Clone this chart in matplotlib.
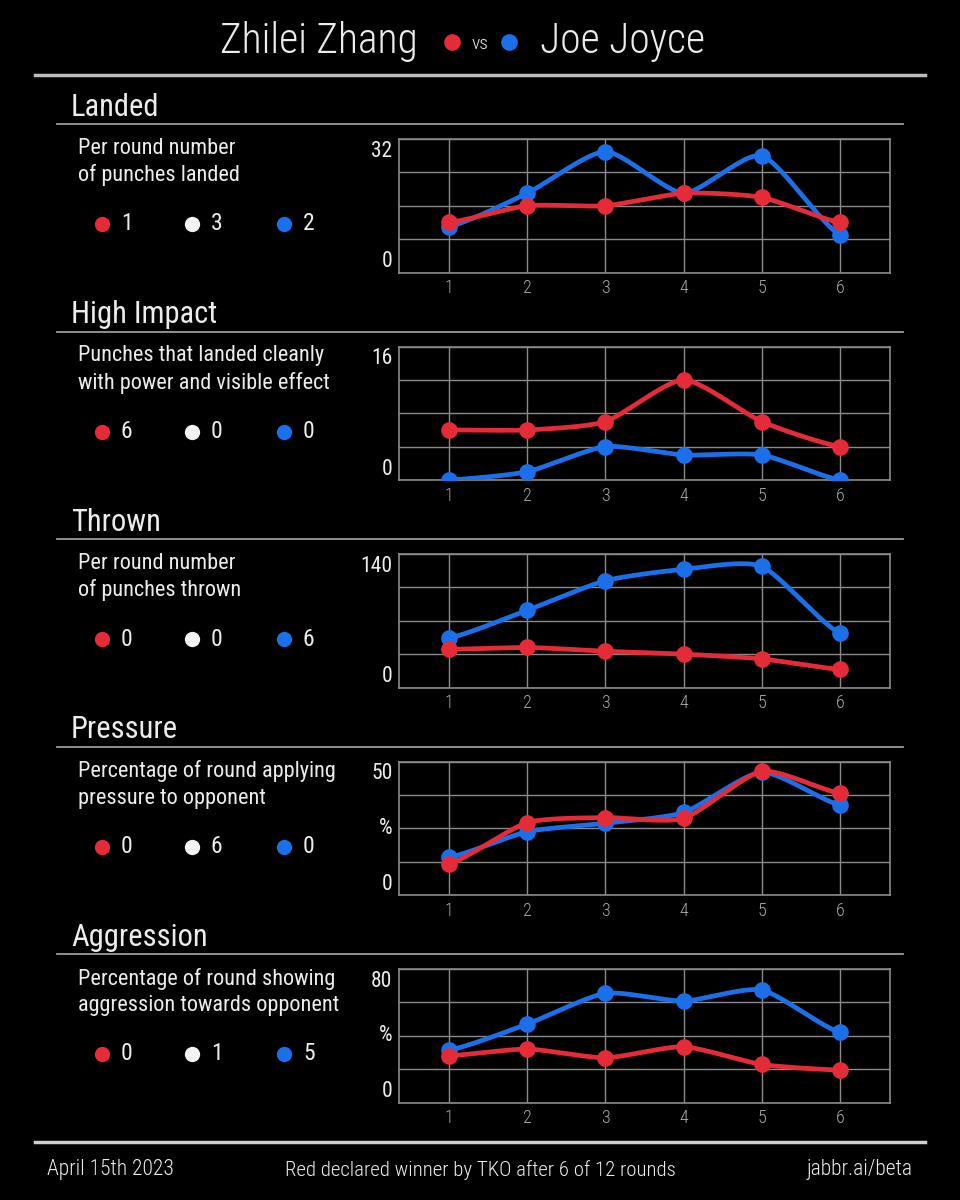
import numpy as np
import matplotlib
matplotlib.use("Agg")
import matplotlib.pyplot as plt
from matplotlib import font_manager
from matplotlib.lines import Line2D

# --- data ---
rounds = [1, 2, 3, 4, 5, 6]

landed_red = [12, 16, 16, 19, 18, 12]
landed_blue = [11, 19, 29, 19, 28, 9]
impact_red = [6, 6, 7, 12, 7, 4]
impact_blue = [0, 1, 4, 3, 3, 0]
thrown_red = [40, 42, 38, 35, 30, 19]
thrown_blue = [52, 81, 112, 124, 127, 57]
pressure_red = [11.6, 27.1, 29.0, 28.7, 46.3, 38.1]
pressure_blue = [14.1, 23.7, 26.9, 30.9, 46.0, 33.7]
aggression_red = [28.0, 32.0, 26.8, 33.4, 22.8, 19.4]
aggression_blue = [31.4, 47.0, 65.4, 60.8, 67.4, 42.0]

titles = ["Landed", "High Impact", "Thrown", "Pressure", "Aggression"]
subtitles = [
    "Per round number\nof punches landed",
    "Punches that landed cleanly\nwith power and visible effect",
    "Per round number\nof punches thrown",
    "Percentage of round applying\npressure to opponent",
    "Percentage of round showing\naggression towards opponent",
]
legend_counts = [[1, 3, 2], [6, 0, 0], [0, 0, 6], [0, 6, 0], [0, 1, 5]]
y_max = [32, 16, 140, 50, 80]
y_mid_label = ["", "", "", "%", "%"]
red_series = [landed_red, impact_red, thrown_red, pressure_red, aggression_red]
blue_series = [landed_blue, impact_blue, thrown_blue, pressure_blue, aggression_blue]

RED = "#e62b38"
BLUE = "#1b6fe8"
GRID = "#8a8a8a"
TXT = "#ececec"

# pick a narrow face if one is installed
names = {f.name for f in font_manager.fontManager.ttflist}
narrow = "Roboto"
for cand in ["Roboto Condensed", "Liberation Sans Narrow", "Open Sans Condensed", "DejaVu Sans Condensed"]:
    if cand in names:
        narrow = cand
        break

W, H = 960, 1200


def fx(px):
    return px / W


def fy(py):
    return 1 - py / H


def smooth(x, y, n=30, c=0.65):
    # cardinal spline through the points, just for the rounded look
    x = np.asarray(x, float)
    y = np.asarray(y, float)
    px = np.concatenate([[2 * x[0] - x[1]], x, [2 * x[-1] - x[-2]]])
    py = np.concatenate([[y[0]], y, [y[-1]]])
    xs, ys = [], []
    t = np.linspace(0, 1, n)
    h00 = 2 * t ** 3 - 3 * t ** 2 + 1
    h10 = t ** 3 - 2 * t ** 2 + t
    h01 = -2 * t ** 3 + 3 * t ** 2
    h11 = t ** 3 - t ** 2
    for i in range(1, len(px) - 2):
        for arr, out in ((px, xs), (py, ys)):
            p0, p1, p2, p3 = arr[i - 1], arr[i], arr[i + 1], arr[i + 2]
            m1 = c * (p2 - p0) / 2
            m2 = c * (p3 - p1) / 2
            out.append(h00 * p1 + h10 * m1 + h01 * p2 + h11 * m2)
    return np.concatenate(xs), np.concatenate(ys)


fig = plt.figure(figsize=(9.6, 12), dpi=100, facecolor="black")

# header
fig.text(fx(418), fy(42), "Zhilei Zhang", ha="right", va="center", color=TXT,
         fontsize=30, family=narrow, fontweight="light")
fig.text(fx(480), fy(44), "vs", ha="center", va="center", color=TXT, fontsize=14, family=narrow,
         fontweight="light")
fig.text(fx(540), fy(42), "Joe Joyce", ha="left", va="center", color=TXT,
         fontsize=30, family=narrow, fontweight="light")
fig.add_artist(Line2D([fx(452)], [fy(42)], marker="o", ms=12, color=RED, mec="none", transform=fig.transFigure))
fig.add_artist(Line2D([fx(509)], [fy(42)], marker="o", ms=12, color=BLUE, mec="none", transform=fig.transFigure))
fig.add_artist(Line2D([fx(35), fx(925)], [fy(75), fy(75)], color="#bdbdbd", lw=2.5, transform=fig.transFigure))

step = 207.5
for i in range(5):
    top = 107 + i * step

    fig.text(fx(71), fy(top), titles[i], ha="left", va="center", color=TXT, fontsize=22, family=narrow)
    fig.add_artist(Line2D([fx(57), fx(903)], [fy(top + 17), fy(top + 17)], color="#9a9a9a", lw=1.3,
                          transform=fig.transFigure))
    fig.text(fx(78), fy(top + 55), subtitles[i], ha="left", va="center", color=TXT, fontsize=16,
             family=narrow, linespacing=1.35)

    for k, (col, lx) in enumerate(zip([RED, "#f4f4f4", BLUE], [102, 192, 284])):
        fig.add_artist(Line2D([fx(lx)], [fy(top + 117)], marker="o", ms=11, color=col, mec="none",
                              transform=fig.transFigure))
        fig.text(fx(lx + 19), fy(top + 117), str(legend_counts[i][k]), ha="left", va="center",
                 color=TXT, fontsize=17, family=narrow)

    ax_top = top + 32
    ax = fig.add_axes([fx(399), fy(ax_top + 133.5), fx(491), 133.5 / H])
    ax.set_facecolor("black")
    ax.plot(*smooth(rounds, blue_series[i]), color=BLUE, lw=3.4, solid_capstyle="round", zorder=3)
    ax.plot(rounds, blue_series[i], "o", color=BLUE, ms=12, mec="none", zorder=4)
    ax.plot(*smooth(rounds, red_series[i]), color=RED, lw=3.4, solid_capstyle="round", zorder=5)
    ax.plot(rounds, red_series[i], "o", color=RED, ms=12, mec="none", zorder=6)

    ax.set_xlim(0.36, 6.64)
    ax.set_ylim(0, y_max[i])
    ax.set_xticks(rounds)
    ax.set_yticks(np.linspace(0, y_max[i], 5))
    ax.set_yticklabels([])
    ax.tick_params(length=0, colors="#a8a8a8", labelsize=13, pad=5)
    for lab in ax.get_xticklabels():
        lab.set_family(narrow)
        lab.set_fontweight("light")
    ax.grid(True, color=GRID, lw=1)
    ax.set_axisbelow(True)
    for s in ax.spines.values():
        s.set_color(GRID)
        s.set_linewidth(1.2)

    ax.text(-0.013, 0.91, str(y_max[i]), transform=ax.transAxes, ha="right", va="center",
            color=TXT, fontsize=15.5, family=narrow)
    ax.text(-0.013, 0.08, "0", transform=ax.transAxes, ha="right", va="center",
            color=TXT, fontsize=15.5, family=narrow)
    if y_mid_label[i]:
        ax.text(-0.013, 0.5, y_mid_label[i], transform=ax.transAxes, ha="right", va="center",
                color=TXT, fontsize=15.5, family=narrow)

# footer
fig.add_artist(Line2D([fx(35), fx(925)], [fy(1142), fy(1142)], color="#d0d0d0", lw=2.5, transform=fig.transFigure))
fig.text(fx(47), fy(1170), "April 15th 2023", ha="left", va="center", color=TXT, fontsize=15.5,
         family=narrow, fontweight="light")
fig.text(fx(480), fy(1170), "Red declared winner by TKO after 6 of 12 rounds", ha="center", va="center",
         color=TXT, fontsize=15, family=narrow, fontweight="light")
fig.text(fx(913), fy(1170), "jabbr.ai/beta", ha="right", va="center", color=TXT, fontsize=15.5,
         family=narrow, fontweight="light")

fig.savefig("out.png", dpi=100, facecolor="black")
